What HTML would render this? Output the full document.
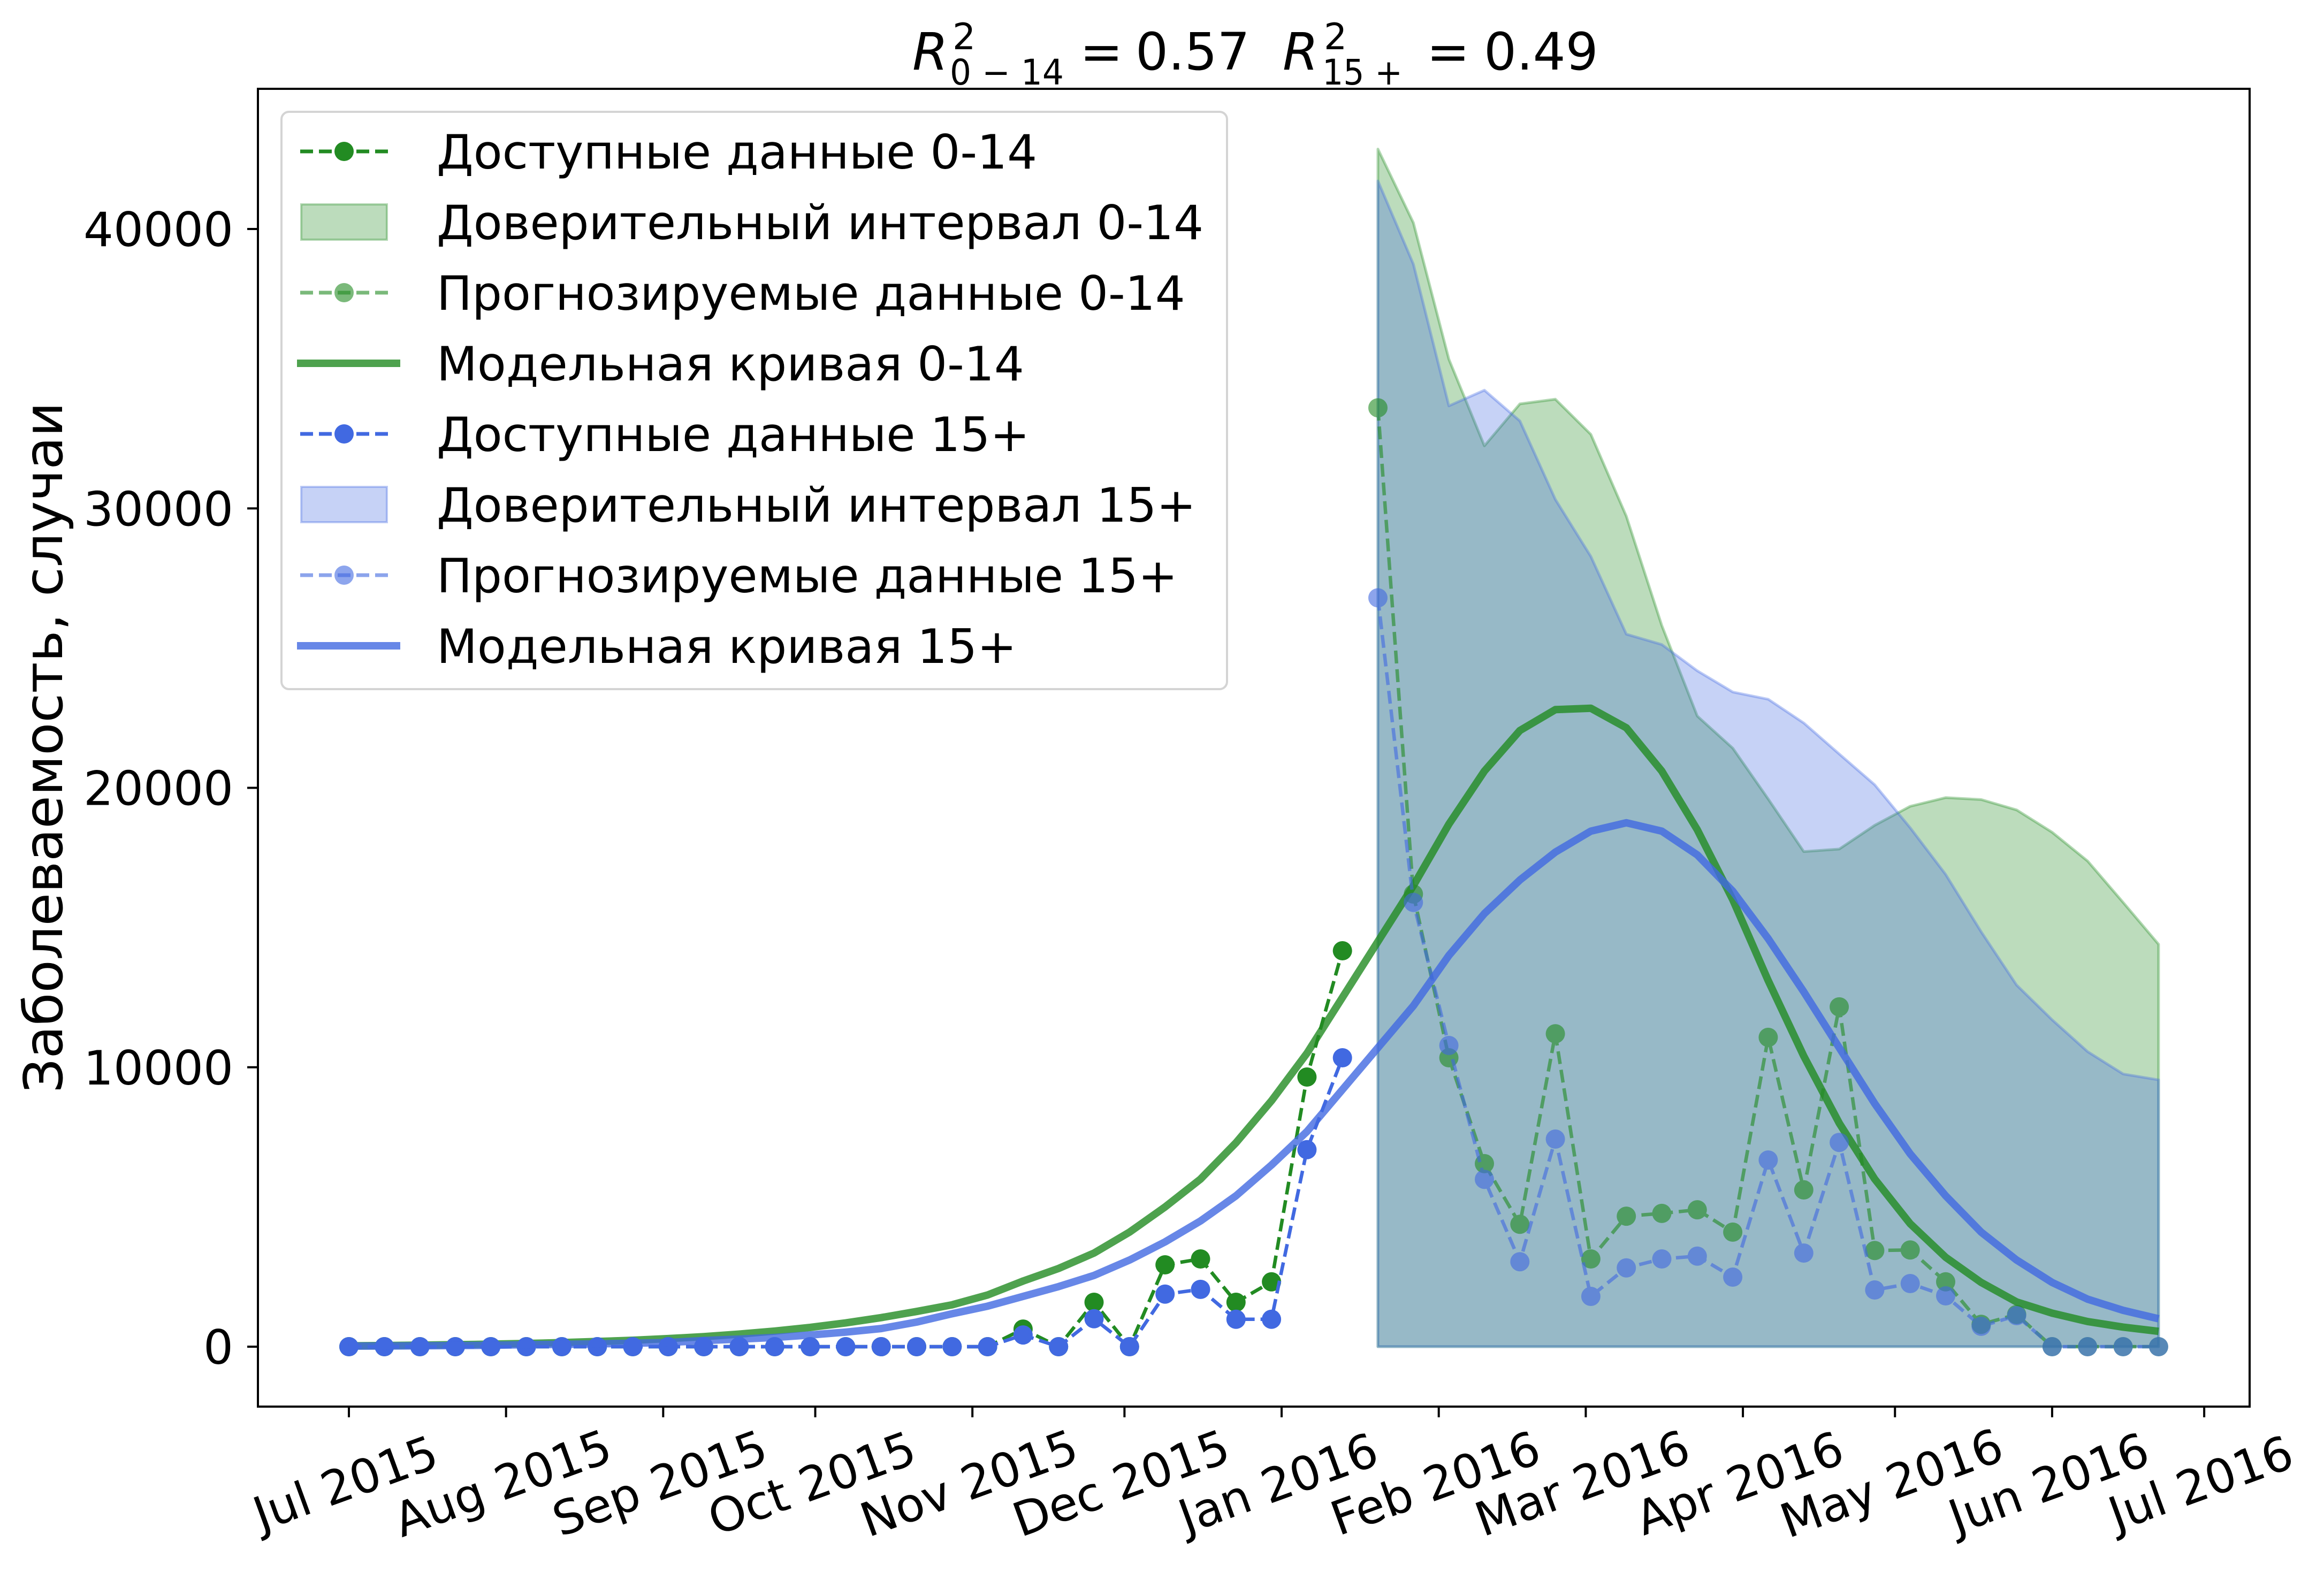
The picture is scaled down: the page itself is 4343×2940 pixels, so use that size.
<!DOCTYPE html>
<html><head><meta charset="utf-8"><style>
html,body{margin:0;padding:0;background:#fff;}
svg{display:block;font-family:"DejaVu Sans","Liberation Sans",sans-serif;}
</style></head><body>
<svg id="chart" xmlns="http://www.w3.org/2000/svg" width="4343" height="2940" viewBox="0 0 4343 2940">
<rect x="0" y="0" width="4343" height="2940" fill="#fff"/>
<g id="plot"></g>
<g id="axes"></g>
<g id="title" font-size="96" fill="#000">
<text x="1705" y="130" font-style="italic">R</text>
<text x="1780" y="92" font-size="68">2</text>
<text x="1775" y="158" font-size="66" xml:space="preserve" textLength="213" lengthAdjust="spacingAndGlyphs">0 − 14</text>
<text x="2018" y="130">=</text>
<text x="2122" y="130">0.57</text>
<text x="2397" y="130" font-style="italic">R</text>
<text x="2474" y="92" font-size="68">2</text>
<text x="2471" y="158" font-size="66" xml:space="preserve" textLength="150" lengthAdjust="spacingAndGlyphs">15 +</text>
<text x="2666" y="130">=</text>
<text x="2773" y="130">0.49</text>
</g>
<text x="116" y="1397" font-size="100" text-anchor="middle" transform="rotate(-90 116 1397)">Заболеваемость, случаи</text>
<g id="legend"></g>
</svg>
<script>
const weeks = [0,1,2,3,4,5,6,7,8,9,10,11,12,13,14,15,16,17,18,19,20,21,22,23,24,25,26,27,28,29,30,31,32,33,34,35,36,37,38,39,40,41,42,43,44,45,46,47,48,49,50,51];
const availWeeks = [0,1,2,3,4,5,6,7,8,9,10,11,12,13,14,15,16,17,18,19,20,21,22,23,24,25,26,27,28];
const forecastWeeks = [29,30,31,32,33,34,35,36,37,38,39,40,41,42,43,44,45,46,47,48,49,50,51];
const avail014 = [0,0,0,0,0,0,0,0,0,0,0,0,0,0,0,0,0,0,0,630,0,1590,0,2930,3140,1590,2320,9650,14170];
const avail15 = [0,0,0,0,0,0,0,0,0,0,0,0,0,0,0,0,0,0,0,420,0,1000,0,1880,2050,980,980,7050,10340];
const fc014 = [33600,16200,10340,6550,4380,11200,3140,4670,4770,4900,4100,11070,5610,12160,3440,3460,2320,800,1150,0,0,0,0];
const fc15 = [26800,15900,10780,5990,3040,7430,1800,2820,3140,3240,2490,6680,3350,7310,2030,2260,1820,730,1110,0,0,0,0];
const ciUp014 = [42860,40220,35340,32240,33740,33910,32650,29720,25810,22570,21420,19600,17720,17810,18660,19340,19650,19580,19210,18410,17380,15900,14400];
const ciUp15 = [41720,38740,33670,34230,33130,30320,28280,25500,25130,24190,23430,23170,22320,21210,20110,18570,16900,14850,12940,11700,10560,9760,9550];
const model014 = [30,40,55,70,90,115,145,185,230,290,360,450,560,690,850,1040,1260,1500,1850,2350,2800,3350,4100,5000,6000,7300,8800,10500,12500,14500,16500,18700,20600,22050,22800,22850,22150,20600,18500,16000,13100,10400,8000,6000,4400,3200,2300,1600,1200,900,700,550];
const model15 = [20,25,30,40,50,70,85,100,125,150,220,270,330,420,520,650,880,1180,1450,1800,2150,2550,3100,3750,4500,5400,6500,7700,9200,10700,12200,14000,15500,16700,17700,18450,18750,18450,17600,16300,14600,12700,10700,8700,6900,5400,4100,3100,2300,1700,1300,1000];
const yTicks = [0,10000,20000,30000,40000];
const monthLabels = ["Jul 2015","Aug 2015","Sep 2015","Oct 2015","Nov 2015","Dec 2015","Jan 2016","Feb 2016","Mar 2016","Apr 2016","May 2016","Jun 2016","Jul 2016"];
const monthDays = [0,31,62,92,123,153,184,215,244,275,305,336,366];

const NS = "http://www.w3.org/2000/svg";
const L = 482, R = 4204, T = 166, B = 2629;
const x0 = 652, pxPerDay = 9.473;
const y0 = 2517, pxPerVal = (2517 - 428) / 40000;
function xDay(d){ return x0 + d * pxPerDay; }
function xWeek(w){ return xDay(w * 7); }
function yVal(v){ return y0 - v * pxPerVal; }
function mk(tag, attrs, parent){
  const e = document.createElementNS(NS, tag);
  for (const k in attrs) e.setAttribute(k, attrs[k]);
  parent.appendChild(e);
  return e;
}
function pts(ws, vs){ return ws.map((w,i)=>xWeek(w).toFixed(1)+","+yVal(vs[i]).toFixed(1)).join(" "); }

const plot = document.getElementById("plot");
const axes = document.getElementById("axes");
const GREEN = "#228B22", BLUE = "#4169E1";

function ciBand(vals, color, name){
  const first = forecastWeeks[0], last = forecastWeeks[forecastWeeks.length-1];
  const p = pts(forecastWeeks, vals) + " " + xWeek(last).toFixed(1)+","+yVal(0).toFixed(1) + " " + xWeek(first).toFixed(1)+","+yVal(0).toFixed(1);
  const e = mk("polygon", {points:p, fill:color, "fill-opacity":0.3, stroke:color, "stroke-opacity":0.35, "stroke-width":5, "stroke-linejoin":"round"}, plot);
  
  
}
function series(ws, vs, color, opacity, name, markerName){
  const g = mk("g", {opacity:opacity}, plot);
  
  
  mk("polyline", {points:pts(ws, vs), fill:"none", stroke:color, "stroke-width":6.5, "stroke-dasharray":"24,11"}, g);
  ws.forEach((w,i)=>{
    const c = mk("circle", {cx:xWeek(w).toFixed(1), cy:yVal(vs[i]).toFixed(1), r:18, fill:color}, g);
    
    
  });
}
function model(vs, color, name){
  const e = mk("polyline", {points:pts(weeks, vs), fill:"none", stroke:color, "stroke-opacity":0.8, "stroke-width":14, "stroke-linejoin":"round"}, plot);
  
  
}
ciBand(ciUp014, GREEN, "confidence-band-0-14");
ciBand(ciUp15, BLUE, "confidence-band-15plus");
series(availWeeks, avail014, GREEN, 1, "available-series-0-14", "available-point-0-14");
series(forecastWeeks, fc014, GREEN, 0.6, "forecast-series-0-14", "forecast-point-0-14");
model(model014, GREEN, "model-curve-0-14");
series(availWeeks, avail15, BLUE, 1, "available-series-15plus", "available-point-15plus");
series(forecastWeeks, fc15, BLUE, 0.6, "forecast-series-15plus", "forecast-point-15plus");
model(model15, BLUE, "model-curve-15plus");

const fr = mk("rect", {x:L, y:T, width:R-L, height:B-T, fill:"none", stroke:"#000", "stroke-width":4}, axes);


yTicks.forEach(v=>{
  const y = yVal(v);
  const t = mk("line", {x1:L-20, x2:L, y1:y, y2:y, stroke:"#000", "stroke-width":4}, axes);
  
  
  const tx = mk("text", {x:436, y:y+32, "font-size":88, "text-anchor":"end"}, axes);
  tx.textContent = String(v);
  
  
});
monthDays.forEach((d,i)=>{
  const x = xDay(d);
  const t = mk("line", {x1:x, x2:x, y1:B, y2:B+20, stroke:"#000", "stroke-width":4}, axes);
  
  
  const cx = x - 6, cy = 2773;
  const tx = mk("text", {x:cx, y:cy+30, "font-size":88, "text-anchor":"middle", transform:"rotate(-20 "+cx+" "+cy+")"}, axes);
  tx.textContent = monthLabels[i];
  
  
});

const lg = document.getElementById("legend");
const box = mk("rect", {x:526, y:209, width:1767, height:1079, rx:14, fill:"#fff", "fill-opacity":0.8, stroke:"#d4d4d4", "stroke-width":4}, lg);


const legendLabels = ["Доступные данные 0-14","Доверительный интервал 0-14","Прогнозируемые данные 0-14","Модельная кривая 0-14","Доступные данные 15+","Доверительный интервал 15+","Прогнозируемые данные 15+","Модельная кривая 15+"];
const legendKinds = ["data","band","fc","model","data","band","fc","model"];
legendLabels.forEach((lab,i)=>{
  const cy = 283 + i*132;
  const color = i < 4 ? GREEN : BLUE;
  const g = mk("g", {}, lg);
  
  
  const k = legendKinds[i];
  if (k === "data" || k === "fc") {
    const op = k === "fc" ? 0.6 : 1;
    mk("line", {x1:561, x2:726, y1:cy, y2:cy, stroke:color, "stroke-width":7, "stroke-dasharray":"24,11", opacity:op}, g);
    mk("circle", {cx:643, cy:cy, r:18, fill:color, opacity:op}, g);
  } else if (k === "band") {
    mk("rect", {x:563, y:cy-33, width:160, height:66, fill:color, "fill-opacity":0.3, stroke:color, "stroke-opacity":0.35, "stroke-width":4}, g);
  } else {
    mk("line", {x1:555, x2:748, y1:cy, y2:cy, stroke:color, "stroke-opacity":0.8, "stroke-width":14}, g);
  }
  const tx = mk("text", {x:816, y:cy+32, "font-size":88}, g);
  tx.textContent = lab;
});
</script>
</body></html>
